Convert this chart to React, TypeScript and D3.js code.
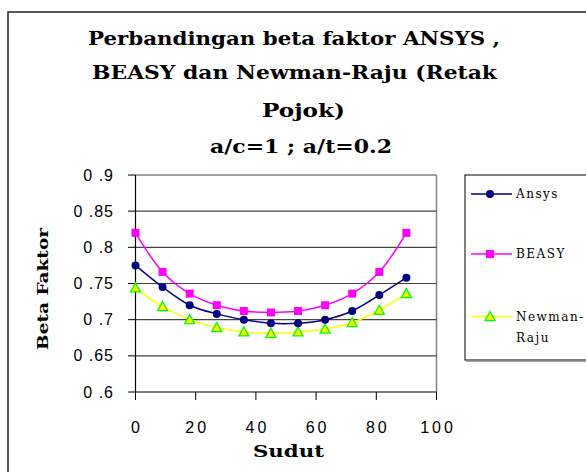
import React from "react";
import * as d3 from "d3";

const sudut = [0, 9, 18, 27, 36, 45, 54, 63, 72, 81, 90];
const ansys = [0.775, 0.745, 0.72, 0.708, 0.7, 0.695, 0.695, 0.7, 0.712, 0.734, 0.758];
const beasy = [0.82, 0.766, 0.736, 0.72, 0.712, 0.71, 0.712, 0.72, 0.736, 0.766, 0.82];
const newmanRaju = [0.744, 0.718, 0.7, 0.689, 0.683, 0.681, 0.683, 0.687, 0.696, 0.713, 0.736];
const xTicks = [0, 20, 40, 60, 80, 100];
const yTicks = [0.6, 0.65, 0.7, 0.75, 0.8, 0.85, 0.9];
const yTickLabels = ["0 .6", "0 .65", "0 .7", "0 .75", "0 .8", "0 .85", "0 .9"];
const seriesNames = ["Ansys", "BEASY", "Newman-Raju"];
const titleLines = ["Perbandingan beta faktor ANSYS ,", "BEASY dan Newman-Raju (Retak", "Pojok)", "a/c=1 ; a/t=0.2"];

const x = d3.scaleLinear().domain([0, 100]).range([135.5, 436.5]);
const y = d3.scaleLinear().domain([0.6, 0.9]).range([392, 175]);

const line = (vals: number[]) =>
  d3
    .line<number>()
    .x((_, i) => x(sudut[i]))
    .y((v) => y(v))
    .curve(d3.curveCatmullRom.alpha(0.5))(vals) || "";

const serif = "'DejaVu Serif', 'Liberation Serif', serif";
const sans = "'Liberation Sans', Arial, sans-serif";

const Circle = ({ cx, cy }: { cx: number; cy: number }) => <circle cx={cx} cy={cy} r={4} fill="#000080" />;
const Square = ({ cx, cy }: { cx: number; cy: number }) => (
  <rect x={cx - 4} y={cy - 4} width={8} height={8} fill="#FF00FF" />
);
const Tri = ({ cx, cy }: { cx: number; cy: number }) => (
  <path d={`M${cx},${cy - 5} L${cx + 5},${cy + 4} L${cx - 5},${cy + 4} Z`} fill="#FFFF00" stroke="#00FF00" strokeWidth={1.3} />
);

export default function App() {
  const titleSpecs = [
    { x: 88, w: 412, y: 45 },
    { x: 92, w: 405, y: 79 },
    { x: 262, w: 83, y: 117 },
    { x: 210, w: 182, y: 153 },
  ];
  return (
    <svg width={586} height={472} style={{ position: "absolute", left: 0, top: 0, background: "#fff" }}>
      <rect x={0} y={0} width={586} height={472} fill="#fff" />
      <rect x={8} y={12} width={700} height={600} fill="#fff" stroke="#222" strokeWidth={1.5} />
      {titleLines.map((t, i) => (
        <text
          key={i}
          x={titleSpecs[i].x}
          y={titleSpecs[i].y}
          textLength={titleSpecs[i].w}
          lengthAdjust="spacingAndGlyphs"
          fontFamily={serif}
          fontWeight="bold"
          fontSize={18}
          fill="#000"
        >
          {t}
        </text>
      ))}
      {/* plot area border */}
      <line x1={135.5} x2={436.5} y1={175} y2={175} stroke="#808080" strokeWidth={1.5} />
      <line x1={436.5} x2={436.5} y1={175} y2={392} stroke="#808080" strokeWidth={1.5} />
      {yTicks.slice(1, -1).map((t) => (
        <line key={t} x1={135.5} x2={436.5} y1={y(t)} y2={y(t)} stroke="#444" strokeWidth={1.2} />
      ))}
      {/* axes */}
      <line x1={135.5} x2={135.5} y1={175} y2={392} stroke="#000" strokeWidth={1.2} />
      <line x1={135.5} x2={436.5} y1={392} y2={392} stroke="#000" strokeWidth={1.2} />
      {yTicks.map((t, i) => (
        <g key={t}>
          <line x1={128} x2={135.5} y1={y(t)} y2={y(t)} stroke="#000" />
          <text x={114} y={y(t) + 5.5} textAnchor="end" fontFamily={sans} fontSize={16} letterSpacing={1} fill="#000">
            {yTickLabels[i]}
          </text>
        </g>
      ))}
      {xTicks.map((t) => (
        <g key={t}>
          <line x1={x(t)} x2={x(t)} y1={392} y2={400} stroke="#000" />
          <text x={x(t) + 1.5} y={433} textAnchor="middle" fontFamily={sans} fontSize={16} letterSpacing={3} fill="#000">
            {t}
          </text>
        </g>
      ))}
      <text x={253} y={457} textLength={71} lengthAdjust="spacingAndGlyphs" fontFamily={serif} fontWeight="bold" fontSize={16} fill="#000">
        Sudut
      </text>
      <text
        transform="translate(48,350) rotate(-90)"
        textLength={122}
        lengthAdjust="spacingAndGlyphs"
        fontFamily={serif}
        fontWeight="bold"
        fontSize={15}
        fill="#000"
      >
        Beta Faktor
      </text>
      {/* series */}
      <path d={line(newmanRaju)} fill="none" stroke="#FFFF00" strokeWidth={1.5} />
      <path d={line(beasy)} fill="none" stroke="#FF00FF" strokeWidth={1.5} />
      <path d={line(ansys)} fill="none" stroke="#000080" strokeWidth={1.5} />
      {newmanRaju.map((v, i) => (
        <Tri key={"n" + i} cx={x(sudut[i])} cy={y(v)} />
      ))}
      {beasy.map((v, i) => (
        <Square key={"b" + i} cx={x(sudut[i])} cy={y(v)} />
      ))}
      {ansys.map((v, i) => (
        <Circle key={"a" + i} cx={x(sudut[i])} cy={y(v)} />
      ))}
      {/* legend */}
      <rect x={465} y={175} width={200} height={185} fill="#fff" stroke="#000" strokeWidth={1} />
      <line x1={466} x2={600} y1={361} y2={361} stroke="#808080" strokeWidth={1.5} />
      <line x1={471} x2={512} y1={194} y2={194} stroke="#000080" strokeWidth={1.5} />
      <Circle cx={490} cy={194} />
      <text x={516} y={198} fontFamily={serif} fontSize={12} letterSpacing={1.5} fill="#000">{seriesNames[0]}</text>
      <line x1={471} x2={512} y1={254} y2={254} stroke="#FF00FF" strokeWidth={1.5} />
      <Square cx={490} cy={254} />
      <text x={516} y={258} fontFamily={serif} fontSize={12} letterSpacing={1.5} fill="#000">{seriesNames[1]}</text>
      <line x1={471} x2={512} y1={316.5} y2={316.5} stroke="#FFFF00" strokeWidth={1.5} />
      <Tri cx={490} cy={316.5} />
      <text x={516} y={321} fontFamily={serif} fontSize={12} letterSpacing={1.5} fill="#000">Newman-</text>
      <text x={516} y={342} fontFamily={serif} fontSize={12} letterSpacing={1.5} fill="#000">Raju</text>
    </svg>
  );
}
